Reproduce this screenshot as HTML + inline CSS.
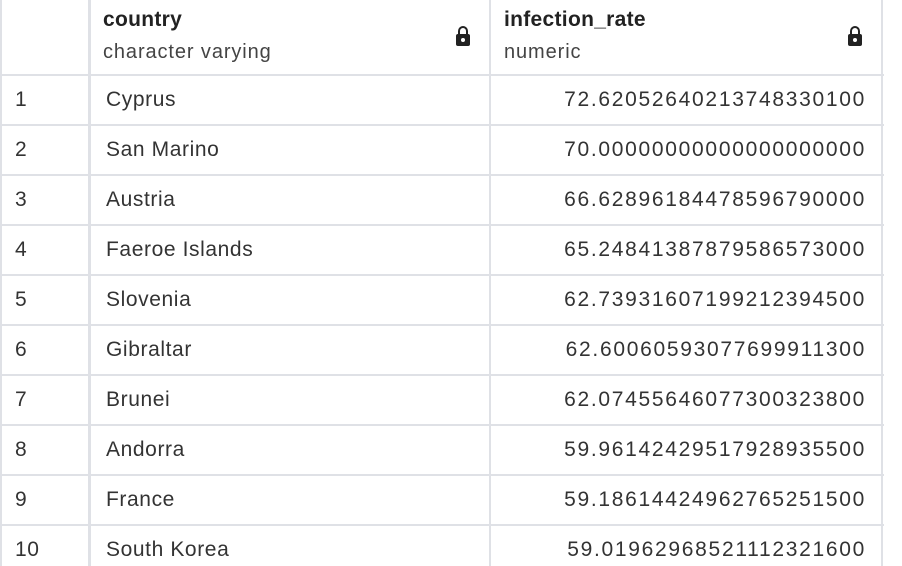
<!DOCTYPE html>
<html><head><meta charset="utf-8"><style>
body{margin:0;width:902px;height:566px;overflow:hidden;background:#fff;font-family:"Liberation Sans",sans-serif;color:#333;position:relative}
.vl{position:absolute;top:0;height:566px;background:#dfe1e6}
.hl{position:absolute;left:0;width:884px;height:2px;background:#dfe1e6}
.t{position:absolute;font-size:21px;line-height:24px;white-space:nowrap;letter-spacing:0.6px}
.h{font-weight:bold;font-size:21px;letter-spacing:0.3px;color:#222}
.sub{font-size:20px;color:#444;letter-spacing:0.9px}
.num{text-align:right;width:380px;letter-spacing:1.7px}
.lock{position:absolute;width:14px;height:12px;background:#222;border-radius:2px}
.lock:before{content:"";position:absolute;left:2px;top:-8px;width:6px;height:7px;border:2px solid #222;border-bottom:none;border-radius:5px 5px 0 0}
.lock:after{content:"";position:absolute;left:5px;top:4px;width:4px;height:4px;border-radius:2px;background:#fff}
</style></head><body>
<div class="vl" style="left:0;width:2px"></div>
<div class="vl" style="left:88px;width:3px"></div>
<div class="vl" style="left:489px;width:2px"></div>
<div class="vl" style="left:881px;width:2px"></div>
<div class="t h" style="left:103px;top:8px">country</div>
<div class="t sub" style="left:103px;top:40px">character varying</div>
<div class="lock" style="left:456px;top:34px"></div>
<div class="t h" style="left:504px;top:8px">infection_rate</div>
<div class="t sub" style="left:504px;top:40px">numeric</div>
<div class="lock" style="left:848px;top:34px"></div>
<div id="rows"></div>
<script>
const countries=["Cyprus","San Marino","Austria","Faeroe Islands","Slovenia","Gibraltar","Brunei","Andorra","France","South Korea"];
const rates=["72.62052640213748330100","70.00000000000000000000","66.62896184478596790000","65.24841387879586573000","62.73931607199212394500","62.60060593077699911300","62.07455646077300323800","59.96142429517928935500","59.18614424962765251500","59.01962968521112321600"];
const root=document.getElementById('rows');
countries.forEach((c,i)=>{
  const y=74+i*50;
  const l=document.createElement('div');l.className='hl';l.style.top=y+'px';
  
  
  root.appendChild(l);
  const n=document.createElement('div');n.className='t';n.style.left='15px';n.style.top=(y+14)+'px';n.textContent=i+1;
  
  
  root.appendChild(n);
  const cc=document.createElement('div');cc.className='t';cc.style.left='106px';cc.style.top=(y+14)+'px';cc.textContent=c;
  
  
  root.appendChild(cc);
  const r=document.createElement('div');r.className='t num';r.style.left='486px';r.style.top=(y+14)+'px';r.textContent=rates[i];
  
  
  root.appendChild(r);
});
</script>
</body></html>
